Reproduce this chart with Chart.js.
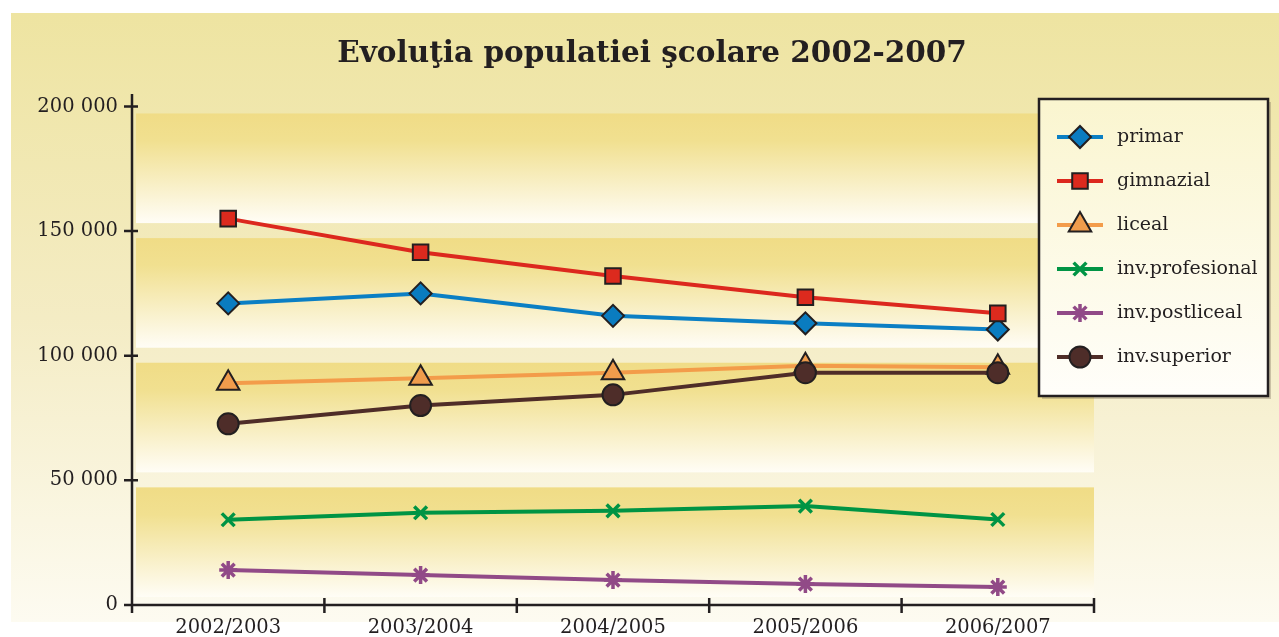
<!DOCTYPE html>
<html>
<head>
<meta charset="utf-8">
<script src="https://cdn.jsdelivr.net/npm/chart.js@4/dist/chart.umd.min.js"></script>
<style>
  body { margin: 0; background: #fff; }
</style>
</head>
<body>
<canvas id="chart" width="1279" height="637"></canvas>
<script>
const categories = ["2002/2003", "2003/2004", "2004/2005", "2005/2006", "2006/2007"];
const primar = [121000, 125000, 116000, 113000, 110500];
const gimnazial = [155000, 141500, 132000, 123500, 117000];
const liceal = [89000, 91000, 93200, 96000, 95400];
const profesional = [34200, 37000, 37800, 39700, 34300];
const postliceal = [14000, 12000, 10000, 8400, 7200];
const superior = [72700, 80000, 84300, 93200, 93200];
const yTicks = [0, 50000, 100000, 150000, 200000];

const titleText = "Evoluţia populatiei şcolare 2002-2007";
const ink = "#231f20";

function fmt(v) {
  return String(v).replace(/\B(?=(\d{3})+(?!\d))/g, " ");
}

function series(label, data, color, fill, style, radius, order) {
  return {
    label: label,
    data: data,
    borderColor: color,
    backgroundColor: fill,
    borderWidth: 4,
    pointStyle: style,
    pointRadius: radius,
    pointHoverRadius: radius,
    pointBackgroundColor: fill,
    pointBorderColor: style === "crossRot" || style === "star" ? color : ink,
    pointBorderWidth: style === "crossRot" || style === "star" ? 3.5 : 2,
    tension: 0,
    order: order
  };
}

// background, bands, axes and legend box
const decor = {
  id: "decor",
  beforeDraw(chart) {
    const ctx = chart.ctx;
    const area = chart.chartArea;
    const y = chart.scales.y;
    ctx.save();
    ctx.fillStyle = "#ffffff";
    ctx.fillRect(0, 0, chart.width, chart.height);
    let g = ctx.createLinearGradient(0, 13, 0, 622);
    g.addColorStop(0, "#eee4a1");
    g.addColorStop(0.5, "#f4ecc4");
    g.addColorStop(1, "#fdfbf1");
    ctx.fillStyle = g;
    ctx.fillRect(11, 13, chart.width - 11, 609);

    for (let i = 0; i < yTicks.length - 1; i++) {
      const top = y.getPixelForValue(yTicks[i + 1]) + 7;
      const bottom = y.getPixelForValue(yTicks[i]) - 8;
      const bg = ctx.createLinearGradient(0, top, 0, bottom);
      bg.addColorStop(0, "#f0dc86");
      bg.addColorStop(0.25, "#f1e090");
      bg.addColorStop(1, "#fffdf6");
      ctx.fillStyle = bg;
      ctx.fillRect(area.left + 4, top, area.right - area.left - 4, bottom - top);
    }

    ctx.fillStyle = ink;
    ctx.font = "bold 29.5px 'DejaVu Serif'";
    ctx.textAlign = "center";
    ctx.textBaseline = "middle";
    ctx.fillText(titleText, 652, 54);
    ctx.restore();
  },
  beforeDatasetsDraw(chart) {
    const ctx = chart.ctx;
    const area = chart.chartArea;
    const y = chart.scales.y;
    ctx.save();
    ctx.strokeStyle = ink;
    ctx.lineWidth = 2.5;
    ctx.beginPath();
    ctx.moveTo(area.left, area.top);
    ctx.lineTo(area.left, area.bottom + 8);
    ctx.moveTo(area.left - 8, area.bottom);
    ctx.lineTo(area.right, area.bottom);
    yTicks.forEach(function (v) {
      const py = y.getPixelForValue(v);
      ctx.moveTo(area.left - 8, py);
      ctx.lineTo(area.left + 6, py);
    });
    const step = (area.right - area.left) / categories.length;
    for (let i = 1; i <= categories.length; i++) {
      const px = area.left + i * step;
      ctx.moveTo(px, area.bottom - 7);
      ctx.lineTo(px, area.bottom + 8);
    }
    ctx.stroke();
    ctx.restore();
  },
  afterDraw(chart) {
    const ctx = chart.ctx;
    const bx = 1039, by = 99, bw = 229, bh = 297;
    ctx.save();
    ctx.fillStyle = "rgba(120,110,90,0.35)";
    ctx.fillRect(bx + 3, by + 3, bw, bh);
    const g = ctx.createLinearGradient(0, by, 0, by + bh);
    g.addColorStop(0, "#faf5cf");
    g.addColorStop(1, "#fffefa");
    ctx.fillStyle = g;
    ctx.fillRect(bx, by, bw, bh);
    ctx.strokeStyle = ink;
    ctx.lineWidth = 2.5;
    ctx.strokeRect(bx, by, bw, bh);

    ctx.font = "19px 'DejaVu Serif'";
    ctx.textBaseline = "middle";
    ctx.textAlign = "left";
    chart.data.datasets.forEach(function (ds, i) {
      const cy = 137 + i * 44;
      ctx.strokeStyle = ds.borderColor;
      ctx.lineWidth = 4;
      ctx.beginPath();
      ctx.moveTo(1057, cy);
      ctx.lineTo(1103, cy);
      ctx.stroke();
      ctx.fillStyle = ds.pointBackgroundColor;
      ctx.strokeStyle = ds.pointBorderColor;
      ctx.lineWidth = ds.pointBorderWidth;
      Chart.helpers.drawPoint(ctx, {
        pointStyle: ds.pointStyle,
        radius: ds.pointRadius,
        rotation: 0,
        borderWidth: ds.pointBorderWidth
      }, 1080, cy);
      ctx.fillStyle = ink;
      ctx.fillText(ds.label, 1117, cy);
    });
    ctx.restore();
  }
};

new Chart(document.getElementById("chart"), {
  type: "line",
  data: {
    labels: categories,
    datasets: [
      series("primar", primar, "#0b7fc4", "#0a7cc0", "rectRot", 11, 6),
      series("gimnazial", gimnazial, "#dc281e", "#dc2a1e", "rect", 11, 5),
      series("liceal", liceal, "#f39c4a", "#f09c4c", "triangle", 13, 4),
      series("inv.profesional", profesional, "#009444", "#009444", "crossRot", 9, 3),
      series("inv.postliceal", postliceal, "#914a87", "#914a87", "star", 9, 2),
      series("inv.superior", superior, "#4f2d28", "#4e2d29", "circle", 10.5, 1)
    ]
  },
  options: {
    responsive: false,
    animation: false,
    layout: { padding: { top: 94, right: 185, bottom: 0, left: 0 } },
    plugins: {
      legend: { display: false },
      title: { display: false },
      tooltip: { enabled: false }
    },
    scales: {
      x: {
        offset: true,
        grid: { display: false },
        border: { display: false },
        ticks: {
          color: ink,
          font: { family: "DejaVu Serif", size: 19.5 },
          padding: 3,
          maxRotation: 0
        },
        afterFit: function (scale) { scale.height = 32; }
      },
      y: {
        min: 0,
        max: 205000,
        grid: { display: false },
        border: { display: false },
        afterBuildTicks: function (scale) {
          scale.ticks = yTicks.map(function (v) { return { value: v }; });
        },
        ticks: {
          color: ink,
          font: { family: "DejaVu Serif", size: 19.5 },
          padding: 6,
          callback: function (v) { return fmt(v); }
        },
        afterFit: function (scale) { scale.width = 132; }
      }
    }
  },
  plugins: [decor]
});
</script>
</body>
</html>
